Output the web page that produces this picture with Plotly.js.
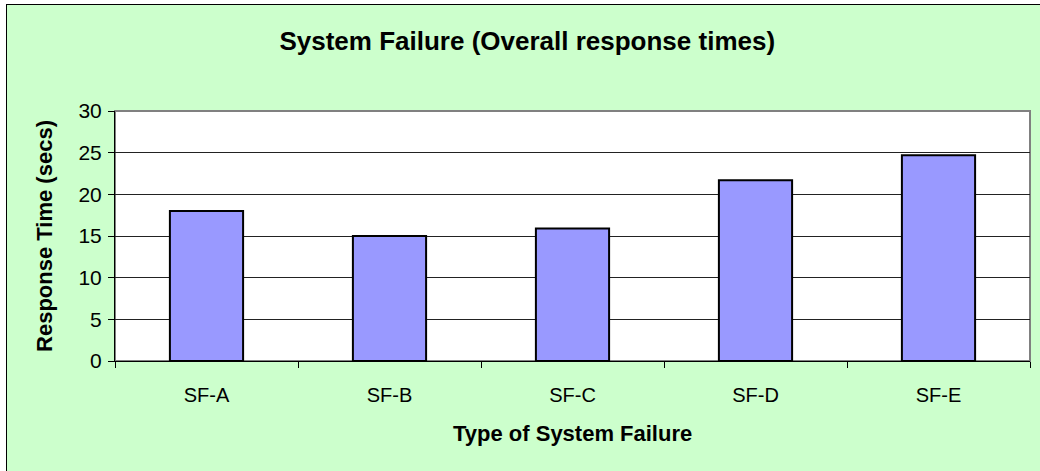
<!DOCTYPE html>
<html>
<head>
<meta charset="utf-8">
<script src="https://cdn.plot.ly/plotly-3.0.1.min.js"></script>
<style>
  html, body { margin: 0; padding: 0; background: #ffffff; }
  #wrap { position: relative; width: 1040px; height: 471px; overflow: hidden; }
  #chart { position: absolute; left: 0; top: 0; width: 1040px; height: 471px; }
  .ov { position: absolute; pointer-events: none; }
</style>
</head>
<body>
<div id="wrap">
  <div id="chart"></div>
  <div class="ov" style="left:0;top:0;width:6px;height:471px;background:#fff;"></div>
  <div class="ov" style="left:0;top:0;width:1040px;height:4px;background:#fff;"></div>
  <div class="ov" style="left:6px;top:4px;width:1px;height:467px;background:#000;"></div>
  <div class="ov" style="left:6px;top:4px;width:1034px;height:1px;background:#000;"></div>
</div>
<script>
const categories = ["SF-A", "SF-B", "SF-C", "SF-D", "SF-E"];
const responseTimes = [18.0, 15.0, 15.9, 21.7, 24.7];
const yTickValues = [0, 5, 10, 15, 20, 25, 30];
const xTitle = "Type of System Failure";
const yTitle = "Response Time (secs)";
const chartTitle = "System Failure (Overall response times)";

const FONT = "Liberation Sans, Arial, sans-serif";

const trace = {
  type: "bar",
  x: categories,
  y: responseTimes,
  marker: { color: "#9999FF", line: { color: "#000000", width: 2 } },
  hoverinfo: "x+y"
};

const layout = {
  width: 1040,
  height: 471,
  paper_bgcolor: "#CCFFCC",
  plot_bgcolor: "#FFFFFF",
  margin: { l: 115, r: 10, t: 111, b: 110, pad: 0 },
  bargap: 0.6,
  showlegend: false,
  font: { family: FONT, color: "#000000", size: 20 },
  title: {
    text: "<b>" + chartTitle + "</b>",
    font: { family: FONT, size: 26, color: "#000000" },
    x: 0.507, xref: "container", xanchor: "center",
    y: 0.913, yref: "container", yanchor: "middle"
  },
  xaxis: {
    type: "category",
    showline: true, linecolor: "#000000", linewidth: 1,
    ticks: "outside", tickson: "boundaries", ticklen: 6, tickcolor: "#000000", tickwidth: 1,
    showgrid: false, zeroline: false,
    tickfont: { family: FONT, size: 20, color: "#000000" },
    ticklabelstandoff: 16
  },
  yaxis: {
    range: [0, 30],
    tickvals: yTickValues,
    ticktext: yTickValues.map(String),
    showline: true, linecolor: "#000000", linewidth: 1,
    ticks: "outside", ticklen: 6, tickcolor: "#000000", tickwidth: 1,
    showgrid: true, gridcolor: "#222222", gridwidth: 1,
    zeroline: false,
    tickfont: { family: FONT, size: 21, color: "#000000" },
    ticklabelstandoff: 2,
    title: {
      text: "<b>" + yTitle + "</b>",
      font: { family: FONT, size: 22, color: "#000000" },
      standoff: 19
    }
  },
  annotations: [{
    text: "<b>" + xTitle + "</b>",
    xref: "paper", yref: "paper",
    x: 0.5, y: -0.288, xanchor: "center", yanchor: "middle",
    showarrow: false,
    font: { family: FONT, size: 22, color: "#000000" }
  }],
  shapes: [{
    type: "rect", xref: "paper", yref: "paper",
    x0: 0, x1: 1, y0: 0, y1: 1,
    line: { color: "#808080", width: 2 },
    fillcolor: "rgba(0,0,0,0)",
    layer: "below"
  }]
};

Plotly.newPlot("chart", [trace], layout, { displayModeBar: false, staticPlot: true });
</script>
</body>
</html>
